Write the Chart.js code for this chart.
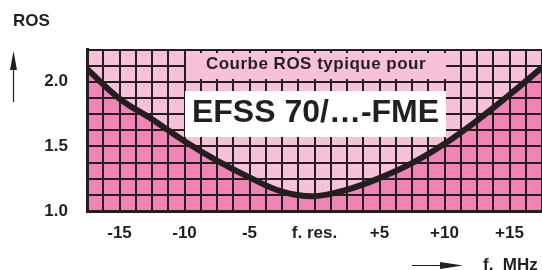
<!DOCTYPE html>
<html>
<head>
<meta charset="utf-8">
<script src="https://cdn.jsdelivr.net/npm/chart.js@4/dist/chart.umd.min.js"></script>
<style>
  html, body { margin: 0; padding: 0; background: #fff; overflow: hidden; }
  #wrap { position: relative; width: 542px; height: 270px; font-family: "Liberation Sans", Arial, sans-serif; font-weight: bold; color: #231f20; }
  #wrap canvas { position: absolute; left: 0; top: 0; }
  .lbl { position: absolute; white-space: pre; line-height: 1; }
  #subtitle-box { position: absolute; left: 186px; top: 53px; width: 260px; height: 26px; background: #f7c1d9; }
  #title-box { position: absolute; left: 185px; top: 91px; width: 261px; height: 46px; background: #fff; }
</style>
</head>
<body>
<div id="wrap">
  <canvas id="ros-chart" width="542" height="270"></canvas>
  <div id="subtitle-box"></div>
  <div class="lbl" style="left:186px; top:55px; width:260px; text-align:center; font-size:17px; letter-spacing:0.5px;">Courbe ROS typique pour</div>
  <div id="title-box"></div>
  <div class="lbl" style="left:185px; top:95px; width:261px; text-align:center; font-size:32px;">EFSS 70/…-FME</div>
  <div class="lbl" style="left:13px; top:12px; font-size:17px;">ROS</div>
  <div class="lbl" style="left:483px; top:256px; font-size:17px;">f.  MHz</div>
</div>
<script>
// frequency offset from resonance (MHz) and typical VSWR
const freqOffsets = [-17.5, -15, -12.5, -10, -7.5, -5, -2.5, 0, 2.5, 5, 7.5, 10, 12.5, 15, 17.5];
const rosValues = [2.10, 1.87, 1.71, 1.54, 1.39, 1.26, 1.15, 1.115, 1.165, 1.255, 1.37, 1.52, 1.70, 1.90, 2.11];

const xLabelValues = [-15, -10, -5, 0, 5, 10, 15];
const xLabelTexts = ['-15', '-10', '-5', 'f. res.', '+5', '+10', '+15'];
const yLabelValues = [1.0, 1.5, 2.0];
const yLabelTexts = ['1.0', '1.5', '2.0'];

const ink = '#231f20';
const lightPink = '#f7c1d9';
const darkPink = '#f084b4';

const points = freqOffsets.map((f, i) => ({ x: f, y: rosValues[i] }));

function findLabel(values, texts, v) {
    const i = values.findIndex(x => Math.abs(x - v) < 1e-6);
    return i >= 0 ? texts[i] : '';
}

// axis arrows next to "ROS" and "f. MHz"
const arrowPlugin = {
    id: 'arrows',
    afterDraw(chart) {
        const ctx = chart.ctx;
        ctx.save();
        ctx.strokeStyle = ink;
        ctx.fillStyle = ink;
        ctx.lineWidth = 1.2;
        ctx.beginPath();
        ctx.moveTo(13.5, 102);
        ctx.lineTo(13.5, 66);
        ctx.stroke();
        ctx.beginPath();
        ctx.moveTo(13.5, 51);
        ctx.lineTo(10, 70);
        ctx.lineTo(17, 70);
        ctx.closePath();
        ctx.fill();

        ctx.beginPath();
        ctx.moveTo(412, 265.5);
        ctx.lineTo(445, 265.5);
        ctx.stroke();
        ctx.beginPath();
        ctx.moveTo(463, 265.5);
        ctx.lineTo(440, 262);
        ctx.lineTo(440, 269);
        ctx.closePath();
        ctx.fill();
        ctx.restore();
    }
};

const ctx = document.getElementById('ros-chart').getContext('2d');
new Chart(ctx, {
    type: 'line',
    data: {
        datasets: [
            {
                label: 'ROS',
                data: points,
                borderColor: ink,
                borderWidth: 6,
                backgroundColor: darkPink,
                fill: 'start',
                tension: 0.4,
                pointRadius: 0
            },
            {
                label: 'above',
                data: points,
                borderWidth: 0,
                borderColor: 'rgba(0,0,0,0)',
                backgroundColor: lightPink,
                fill: 'end',
                tension: 0.4,
                pointRadius: 0
            }
        ]
    },
    options: {
        responsive: false,
        animation: false,
        layout: { padding: { top: 49.5, right: 0, left: 0, bottom: 0 } },
        plugins: {
            legend: { display: false },
            tooltip: { enabled: false },
            filler: { drawTime: 'beforeDraw' }
        },
        scales: {
            x: {
                type: 'linear',
                min: -17.5,
                max: 17.5,
                afterFit(scale) {
                    scale.height = 59;
                    scale.paddingLeft = 0;
                    scale.paddingRight = 0;
                },
                grid: { color: ink, lineWidth: 2, drawTicks: false },
                border: { color: ink, width: 3 },
                ticks: {
                    stepSize: 1.25,
                    autoSkip: false,
                    maxRotation: 0,
                    padding: 12,
                    color: ink,
                    font: { family: '"Liberation Sans", Arial, sans-serif', size: 17, weight: 'bold' },
                    callback: v => findLabel(xLabelValues, xLabelTexts, v)
                }
            },
            y: {
                min: 1.0,
                max: 2.25,
                afterFit(scale) {
                    scale.width = 87;
                    scale.paddingTop = 0;
                    scale.paddingBottom = 0;
                },
                grid: { color: ink, lineWidth: 2, drawTicks: false },
                border: { color: ink, width: 3 },
                ticks: {
                    stepSize: 0.125,
                    autoSkip: false,
                    padding: 19,
                    color: ink,
                    font: { family: '"Liberation Sans", Arial, sans-serif', size: 17, weight: 'bold' },
                    callback: v => findLabel(yLabelValues, yLabelTexts, v)
                }
            }
        }
    },
    plugins: [arrowPlugin]
});
</script>
</body>
</html>
